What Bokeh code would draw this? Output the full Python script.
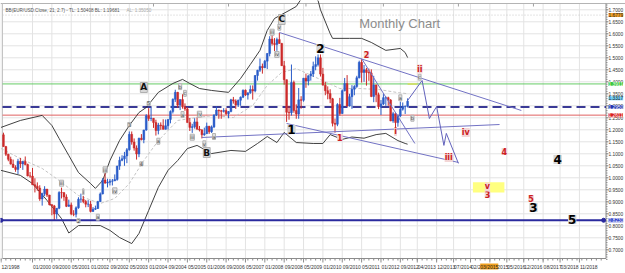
import pandas as pd
from bokeh.plotting import figure
from bokeh.models import Range1d, Label, LabelSet, ColumnDataSource
from bokeh.embed import file_html
from bokeh.resources import INLINE
from bokeh.core.properties import value

# ---------------- data ----------------
first_month = "1999-01"
first_open = 1.1790
closes = [1.1300,1.0980,1.0770,1.0570,1.0430,1.0350,1.0690,1.0580,1.0680,1.0550,1.0080,1.0070,
          0.9710,0.9650,0.9570,0.9120,0.9340,0.9530,0.9280,0.8880,0.8830,0.8490,0.8730,0.9390,
          0.9380,0.9200,0.8810,0.8870,0.8490,0.8480,0.8750,0.9110,0.9110,0.9010,0.8900,0.8900,
          0.8600,0.8690,0.8720,0.9010,0.9330,0.9910,0.9780,0.9810,0.9860,0.9870,0.9930,1.0490,
          1.0730,1.0790,1.0910,1.1170,1.1810,1.1490,1.1240,1.0990,1.1650,1.1590,1.1990,1.2590,
          1.2470,1.2480,1.2300,1.1970,1.2200,1.2170,1.2020,1.2170,1.2430,1.2760,1.3270,1.3560,
          1.3030,1.3260,1.2960,1.2870,1.2300,1.2100,1.2130,1.2330,1.2030,1.1990,1.1790,1.1840,
          1.2150,1.1920,1.2120,1.2620,1.2820,1.2790,1.2770,1.2800,1.2670,1.2760,1.3250,1.3200,
          1.3030,1.3230,1.3360,1.3650,1.3450,1.3540,1.3680,1.3620,1.4260,1.4480,1.4640,1.4590,
          1.4860,1.5180,1.5780,1.5600,1.5550,1.5760,1.5600,1.4670,1.4090,1.2730,1.2710,1.3970,
          1.2800,1.2660,1.3250,1.3230,1.4150,1.4030,1.4250,1.4330,1.4640,1.4720,1.5000,1.4320,
          1.3860,1.3630,1.3510,1.3290,1.2270,1.2230,1.3050,1.2680,1.3630,1.3930,1.2990,1.3380,
          1.3690,1.3800,1.4170,1.4810,1.4390,1.4500,1.4390,1.4370,1.3390,1.3870,1.3460,1.2960,
          1.3080,1.3340,1.3340,1.3240,1.2370,1.2670,1.2300,1.2580,1.2860,1.2960,1.2980,1.3190]
highs = [1.1880,1.1330,1.1000,1.0880,1.0760,1.0520,1.0790,1.0830,1.0710,1.0890,1.0590,1.0240,
         1.0410,0.9980,0.9810,0.9690,0.9380,0.9650,0.9530,0.9290,0.8900,0.8870,0.8740,0.9440,
         0.9590,0.9410,0.9310,0.9090,0.8970,0.8650,0.8810,0.9190,0.9340,0.9240,0.9080,0.9070,
         0.9040,0.8780,0.8840,0.9040,0.9390,0.9990,1.0200,0.9960,0.9950,0.9950,1.0140,1.0500,
         1.0880,1.0940,1.1080,1.1240,1.1930,1.1930,1.1640,1.1350,1.1670,1.1820,1.2000,1.2650,
         1.2900,1.2930,1.2490,1.2420,1.2290,1.2310,1.2440,1.2430,1.2440,1.2810,1.3310,1.3670,
         1.3580,1.3270,1.3480,1.3100,1.2940,1.2490,1.2250,1.2480,1.2520,1.2160,1.2030,1.2090,
         1.2300,1.2160,1.2180,1.2640,1.2980,1.2840,1.2830,1.2900,1.2900,1.2780,1.3290,1.3370,
         1.3270,1.3260,1.3390,1.3680,1.3680,1.3550,1.3850,1.3850,1.4280,1.4500,1.4970,1.4760,
         1.4910,1.5190,1.5900,1.6020,1.5820,1.5840,1.6040,1.5620,1.4870,1.4090,1.3000,1.4720,
         1.4050,1.3060,1.3740,1.3400,1.4160,1.4340,1.4270,1.4450,1.4840,1.5060,1.5140,1.5140,
         1.4580,1.3990,1.3810,1.3690,1.3330,1.2470,1.3110,1.3330,1.3680,1.4160,1.4280,1.3500,
         1.3860,1.3860,1.4250,1.4880,1.4940,1.4700,1.4580,1.4550,1.4520,1.4250,1.3880,1.3550,
         1.3240,1.3490,1.3390,1.3380,1.3280,1.2750,1.2690,1.2640,1.3170,1.3140,1.3010,1.3310]
lows = [1.1290,1.0910,1.0690,1.0550,1.0430,1.0250,1.0160,1.0410,1.0330,1.0520,1.0060,1.0000,
        0.9700,0.9390,0.9460,0.9040,0.8840,0.9240,0.9200,0.8850,0.8440,0.8230,0.8290,0.8690,
        0.9140,0.9040,0.8780,0.8790,0.8440,0.8400,0.8350,0.8710,0.8960,0.8940,0.8770,0.8780,
        0.8560,0.8580,0.8660,0.8700,0.8990,0.9310,0.9750,0.9600,0.9680,0.9680,0.9870,0.9880,
        1.0330,1.0690,1.0500,1.0610,1.1130,1.1380,1.1130,1.0760,1.0860,1.1560,1.1440,1.1960,
        1.2370,1.2360,1.2080,1.1760,1.1810,1.2000,1.2010,1.2010,1.2010,1.2270,1.2680,1.3160,
        1.2920,1.2820,1.2880,1.2790,1.2300,1.1950,1.1870,1.2050,1.1990,1.1930,1.1640,1.1750,
        1.1830,1.1830,1.1870,1.2070,1.2570,1.2460,1.2460,1.2720,1.2620,1.2480,1.2730,1.3090,
        1.2870,1.2950,1.3000,1.3320,1.3410,1.3260,1.3500,1.3260,1.3560,1.4050,1.4410,1.4340,
        1.4570,1.4530,1.5060,1.5510,1.5280,1.5290,1.5590,1.4660,1.3880,1.2330,1.2420,1.2590,
        1.2710,1.2460,1.2460,1.2880,1.3170,1.3750,1.3850,1.4050,1.4200,1.4480,1.4640,1.4220,
        1.3860,1.3440,1.3270,1.3110,1.2140,1.1880,1.2150,1.2590,1.2660,1.3600,1.2970,1.2970,
        1.2870,1.3440,1.3750,1.4140,1.3970,1.4000,1.3840,1.4040,1.3360,1.3150,1.3150,1.2860,
        1.2620,1.3030,1.3000,1.3000,1.2360,1.2290,1.2040,1.2130,1.2530,1.2800,1.2660,1.2930]

# Bollinger bands (21, 2.7)
bb_up_month = ["1998-12","1999-08","2000-05","2000-09","2000-12","2001-04","2001-08","2002-01",
               "2002-03","2002-06","2002-09","2003-01","2003-05","2003-09","2003-12","2004-05",
               "2004-11","2005-03","2005-06","2005-10","2006-03","2006-10","2007-03","2007-07",
               "2007-11","2008-02","2008-05","2008-11","2009-02","2009-05","2009-08","2009-11",
               "2009-12","2010-04","2010-05","2010-12","2011-05","2011-09","2012-03","2012-09",
               "2012-11","2012-12"]
bb_up_val = [1.210,1.239,1.260,1.218,1.164,1.093,1.022,0.976,
             0.956,0.989,1.072,1.156,1.218,1.272,1.293,1.356,
             1.393,1.410,1.393,1.372,1.364,1.356,1.414,1.472,
             1.531,1.614,1.664,1.697,1.714,1.760,1.760,1.739,
             1.700,1.601,1.581,1.581,1.581,1.564,1.531,1.539,
             1.522,1.501]
bb_lo_month = ["1998-12","1999-08","2000-01","2000-07","2001-01","2001-04","2001-08","2002-01",
               "2002-05","2002-09","2003-01","2003-06","2003-09","2004-01","2004-05","2004-09",
               "2005-01","2005-05","2005-09","2006-03","2006-11","2007-05","2007-10","2008-02",
               "2008-06","2008-09","2009-02","2009-09","2010-01","2010-04","2010-09","2011-01",
               "2011-06","2011-11","2012-03","2012-08","2012-11","2012-12"]
bb_lo_val = [1.031,1.010,0.976,0.906,0.830,0.770,0.801,0.801,
             0.801,0.781,0.751,0.726,0.768,0.864,0.960,1.031,
             1.072,1.122,1.135,1.101,1.114,1.110,1.143,1.172,
             1.147,1.189,1.147,1.143,1.143,1.180,1.160,1.170,
             1.165,1.180,1.185,1.155,1.143,1.140]
bb_mid_month = ["1998-12","1999-08","2000-05","2000-12","2001-08","2002-05","2002-11","2003-05",
                "2003-11","2004-05","2005-01","2005-09","2006-04","2006-12","2007-08","2008-02",
                "2008-08","2009-02","2009-11","2010-08","2011-04","2011-12","2012-08","2012-12"]
bb_mid_val = [1.122,1.080,1.039,0.989,0.926,0.893,0.914,0.976,
              1.072,1.155,1.239,1.251,1.260,1.251,1.301,1.385,
              1.439,1.455,1.414,1.372,1.372,1.368,1.355,1.3505]

# horizontal levels
level_green = 1.3911
level_blue_dash = 1.2950
level_red = 1.2611
level_orange = 1.6779
level_lightblue = 1.3317
support_level = 0.8230
support_months = ["1998-12", "2019-09"]
green_mark_months = ["2012-12", "2013-04"]

# trend lines (month, price) pairs
trend_lines = [
    (["2008-07", "2016-11"], [1.6055, 1.2805]),
    (["2011-05", "2013-03"], [1.497, 1.143]),
    (["2008-10", "2014-09"], [1.2263, 1.064]),
    (["2005-11", "2016-02"], [1.168, 1.222]),
]
# projected wave path
proj_month = ["2012-12", "2013-06", "2013-09", "2013-12", "2014-03", "2014-04", "2014-09"]
proj_val = [1.322, 1.4055, 1.247, 1.297, 1.135, 1.185, 1.060]

# target zone (yellow)
zone_month = ["2015-03", "2016-04"]
zone_val = [0.939, 0.981]

# wave labels
big_text = ["2", "1", "4", "3", "5"]
big_month = ["2009-12", "2008-12", "2018-02", "2017-04", "2018-08"]
big_val = [1.5388, 1.2013, 1.0763, 0.8763, 0.8263]
mid_text = ["C", "A", "B"]
mid_month = ["2008-08", "2003-11", "2006-01"]
mid_val = [1.6596, 1.3763, 1.1054]
red_text = ["2", "ii", "i", "1", "iii", "iv", "4", "5", "3", "v"]
red_month = ["2011-07", "2013-05", "2012-07", "2010-08", "2014-05", "2014-12", "2016-04",
             "2017-03", "2015-09", "2015-09"]
red_val = [1.5138, 1.4533, 1.1929, 1.1679, 1.0846, 1.1888, 1.1096, 0.9138, 0.9304, 0.9617]
small_text = ["v", "iii", "iv", "b", "c", "a", "iv", "3", "5", "iii", "i", "iv", "iii", "4",
              "a", "a", "2", "iii", "a", "v", "a", "b", "c"]
small_month = ["2008-07", "2008-04", "2008-06", "2005-02", "2005-04", "2005-03", "2005-10",
               "2003-05", "2004-01", "2001-01", "2001-10", "2002-11", "2002-07", "2003-10",
               "2004-05", "2002-04", "2001-08", "2005-07", "2006-04", "2005-12", "2012-09",
               "2013-02", "2013-05"]
small_val = [1.6275, 1.6067, 1.5138, 1.380, 1.352, 1.2637, 1.265, 1.222, 1.3096, 0.9775,
             0.9417, 0.9458, 1.0333, 1.0583, 1.1525, 0.8358, 0.8208, 1.1692, 1.172, 1.1417,
             1.3333, 1.2483, 1.4192]

# axis tick labels
x_tick_labels = ["12/1998","01/2000","09/2000","05/2001","01/2002","09/2002","05/2003","01/2004",
                 "09/2004","05/2005","01/2006","09/2006","05/2007","01/2008","09/2008","05/2009",
                 "01/2010","09/2010","05/2011","01/2012","09/2012","04/2013","12/2013","07/2014",
                 "02/2015","10/2015","05/2016","12/2016","08/2017","03/2018","11/2018"]
cursor_date_label = "03/2015"
cursor_date_month = "2015-06"
y_ticks = [0.70,0.75,0.80,0.85,0.90,0.95,1.00,1.05,1.10,1.15,1.20,1.25,1.30,1.35,1.40,1.45,
           1.50,1.55,1.60,1.65,1.70]
top_marks = ["2004-03", "2006-10", "2009-06", "2012-02", "2014-09", "2017-04"]
title_text = "BB(EUR/USD.Close, 21, 2.7) - TL: 1.50408  BL: 1.19681"
title_text2 = "AL: 1.35050"

# ---------------- helpers ----------------
def midx(s):
    q = pd.Period(s, freq="M")
    return (q.year - 2000) * 12 + q.month - 1

def mlist(lst):
    return [midx(s) for s in lst]

months = pd.period_range(first_month, periods=len(closes), freq="M")
cm = [(q.year - 2000) * 12 + q.month - 1 for q in months]
opens = [first_open] + closes[:-1]
UP, DN = "#2a5cc8", "#cc2a2a"
col = [UP if c >= o else DN for o, c in zip(opens, closes)]
top = [max(o, c) for o, c in zip(opens, closes)]
bot = [min(o, c) for o, c in zip(opens, closes)]

# canvas-wide ranges (axes are drawn by hand so that the value boxes may sit on them)
PX = 1 / 2.42      # months per pixel
PY = 1 / 240.0     # price per pixel
X0, X1 = -32 * PX, 593 * PX
Y0, Y1 = 1.45 - 203.7 * PY, 1.45 + 69.3 * PY
XL = X0 + 2 * PX          # left edge of the plotting area
XA = X0 + 605.5 * PX      # price axis
YB = Y0 + 15 * PY         # time axis
YT = Y1 - 3 * PY          # top edge

p = figure(width=625, height=273, output_backend="svg", toolbar_location=None,
           x_range=Range1d(X0, X1), y_range=Range1d(Y0, Y1),
           x_axis_location=None, y_axis_location=None, min_border=0,
           background_fill_color="white", border_fill_color="white", outline_line_color=None)
p.grid.visible = False

tick_m = [midx(f"{t[3:]}-{t[:2]}") for t in x_tick_labels]
GRID = "#e3e3e3"
AX = "#8c8c8c"
# grid
p.segment(x0=tick_m, y0=[YB] * len(tick_m), x1=tick_m, y1=[YT] * len(tick_m),
          line_color=GRID, line_width=1)
p.segment(x0=[XL] * len(y_ticks), y0=y_ticks, x1=[XA] * len(y_ticks), y1=y_ticks,
          line_color=GRID, line_width=1)

# frame edges
p.line([X0, X1], [YT, YT], line_color="#b4b4b4", line_width=1)
p.line([XL, XL], [YB, YT], line_color="#c4c4c4", line_width=1)
tm = mlist(top_marks)
p.segment(x0=tm, y0=[YT] * len(tm), x1=tm, y1=[YT - 3 * PY] * len(tm), line_color="#a0a0a0")

# time axis
p.line([XL, XA], [YB, YB], line_color=AX, line_width=1)
minor_m = list(range(-13, 236, 2))
p.segment(x0=minor_m, y0=[YB] * len(minor_m), x1=minor_m, y1=[YB - 2 * PY] * len(minor_m),
          line_color=AX, line_width=1)
p.segment(x0=tick_m, y0=[YB] * len(tick_m), x1=tick_m, y1=[YB - 4 * PY] * len(tick_m),
          line_color=AX, line_width=1)
p.add_layout(LabelSet(x="x", y="y", text="t",
                      source=ColumnDataSource(dict(x=tick_m, y=[YB - 8 * PY] * len(tick_m),
                                                   t=x_tick_labels)),
                      text_align="left", text_baseline="middle", x_offset=0.5,
                      text_font_size=value("5px"), text_font=value("Liberation Sans"),
                      text_color=value("#333333")))

# price axis
p.line([XA, XA], [YB, YT], line_color=AX, line_width=1)
minor_y = [round(0.66 + 0.01 * i, 2) for i in range(107)]
p.segment(x0=[XA] * len(minor_y), y0=minor_y, x1=[XA + 1.5 * PX] * len(minor_y), y1=minor_y,
          line_color=AX, line_width=1)
p.segment(x0=[XA] * len(y_ticks), y0=y_ticks, x1=[XA + 2.5 * PX] * len(y_ticks), y1=y_ticks,
          line_color=AX, line_width=1)
p.add_layout(LabelSet(x="x", y="y", text="t",
                      source=ColumnDataSource(dict(x=[XA] * len(y_ticks), y=y_ticks,
                                                   t=[f"{v:.4f}" for v in y_ticks])),
                      text_align="left", text_baseline="middle", x_offset=2.5,
                      text_font_size=value("4.8px"), text_font=value("Liberation Sans"),
                      text_color=value("#333333")))

# levels
p.line([XL, XA], [level_orange] * 2, line_color="#c8c8c8", line_width=1, line_dash="1 2")
p.line([XL, XA], [level_green] * 2, line_color="#66cc66", line_width=1)
p.line(mlist(green_mark_months), [level_green] * 2, line_color="#cde070", line_width=2)
p.line([XL, XA], [level_red] * 2, line_color="#e06060", line_width=1)
p.line([XL, XA], [level_blue_dash] * 2, line_color="#3a3a96", line_width=2, line_dash="9 5")

# bands
p.line(mlist(bb_mid_month), bb_mid_val, line_color="#c4c4c4", line_width=1, line_dash="3 2")
p.line(mlist(bb_up_month), bb_up_val, line_color="#2b2b2b", line_width=0.9)
p.line(mlist(bb_lo_month), bb_lo_val, line_color="#2b2b2b", line_width=0.9)

# target zone
p.quad(left=[midx(zone_month[0])], right=[midx(zone_month[1])], bottom=[zone_val[0]],
       top=[zone_val[1]], fill_color="#ffff80", line_color=None)

# candles
src = ColumnDataSource(dict(x=cm, lo=lows, hi=highs, top=top, bot=bot, c=col))
p.segment(x0="x", y0="lo", x1="x", y1="hi", line_color="c", line_width=1, source=src)
p.vbar(x="x", width=0.75, top="top", bottom="bot", fill_color="c", line_color="c",
       line_width=0.5, source=src)

# trend lines and projection
for xs, ys in trend_lines:
    p.line(mlist(xs), ys, line_color="#7272c4", line_width=1)
p.line(mlist(proj_month), proj_val, line_color="#6262bc", line_width=1)

# support line
sm = mlist(support_months)
p.line(sm, [support_level] * 2, line_color="#2a2a9e", line_width=2)
p.scatter(sm, [support_level] * 2, size=4, color="#2a2a9e")

# wave labels
def add_labels(texts, mons, vals, size, color, bg, border, style="bold", font="DejaVu Sans"):
    s = ColumnDataSource(dict(x=mlist(mons), y=vals, t=texts))
    p.add_layout(LabelSet(x="x", y="y", text="t", source=s, text_align="center",
                          text_baseline="middle", text_font_size=value(size),
                          text_font=value(font), text_font_style=value(style),
                          text_color=value(color), background_fill_color=bg,
                          border_line_color=border, level="overlay"))

add_labels(small_text, small_month, small_val, "5px", "#444444", "#dedede", "#b4b4b4", "normal")
add_labels(red_text, red_month, red_val, "8px", "#cc2020", "#f3d6d6", None)
add_labels(mid_text, mid_month, mid_val, "9px", "#111111", "#d8d8d8", "#b0b0b0")
add_labels(big_text, big_month, big_val, "12px", "#000000", "#d6d6d6", None)

# chart texts
p.add_layout(Label(x=X0, y=1.697, x_offset=5, text=title_text, text_font_size="4.6px",
                   text_font="Liberation Sans", text_color="#555555", text_baseline="middle"))
p.add_layout(Label(x=X0, y=1.697, x_offset=126, text=title_text2, text_font_size="4.6px",
                   text_font="Liberation Sans", text_color="#aaaaaa", text_baseline="middle"))
p.add_layout(Label(x=midx("2011-04"), y=1.643, text="Monthly Chart", text_font_size="13px",
                   text_font="Liberation Sans", text_color="#8c8c8c", text_baseline="middle"))

# value boxes on the price axis
for v, bg, fg in [(level_orange, "#f0a028", "#222222"), (level_green, "#3ec83e", "#ffffff"),
                  (level_lightblue, "#70ccf4", "#222222"), (level_blue_dash, "#2436b0", "#ffffff"),
                  (level_red, "#d82020", "#ffffff"), (support_level, "#2436c8", "#ffffff")]:
    p.add_layout(Label(x=XA, y=v, x_offset=2.5, text=f"{v:.4f}", text_font_size="4.8px",
                       text_font="Liberation Sans", text_color=fg, background_fill_color=bg,
                       text_baseline="middle", level="overlay"))

# cursor date box on the time axis
p.add_layout(Label(x=midx(cursor_date_month), y=YB - 8 * PY, text=cursor_date_label,
                   text_font_size="5px", text_font="Liberation Sans", text_color="#222222",
                   background_fill_color="#f0a020", text_baseline="middle", level="overlay"))

open("out.html", "w").write(file_html(p, INLINE))
